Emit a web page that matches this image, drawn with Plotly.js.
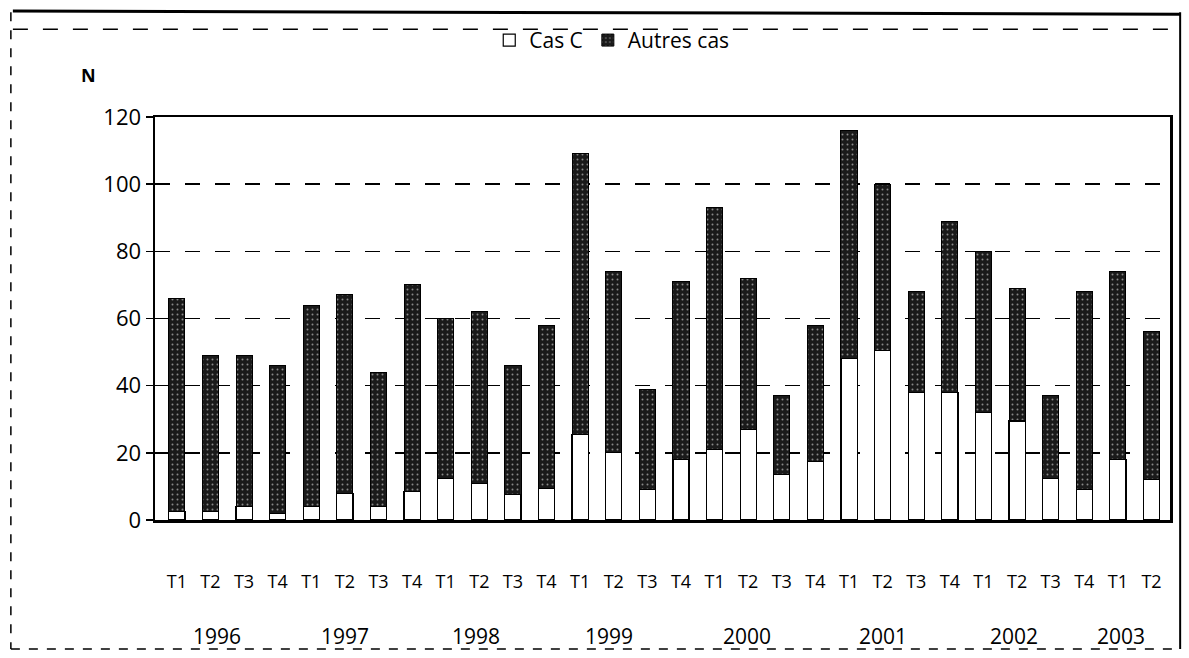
<!DOCTYPE html>
<html><head><meta charset="utf-8">
<script src="https://cdn.plot.ly/plotly-3.0.1.min.js"></script>
<style>html,body{margin:0;padding:0;background:#fff}#chart{width:1189px;height:658px}</style>
</head><body><div id="chart"></div>
<script>
const quarters = ["T1","T2","T3","T4","T1","T2","T3","T4","T1","T2","T3","T4","T1","T2","T3","T4","T1","T2","T3","T4","T1","T2","T3","T4","T1","T2","T3","T4","T1","T2"];
const years = ["1996","1997","1998","1999","2000","2001","2002","2003"];
const yearPos = [1.2, 5.0, 8.9, 12.85, 16.95, 21.0, 24.9, 28.1];
const totals = [66,49,49,46, 64,67,44,70, 60,62,46,58, 109,74,39,71, 93,72,37,58, 116,100,68,89, 80,69,37,68, 74,56];
const casC   = [2.5,2.5,4,2, 4,8,4,8.5, 12.5,11,7.5,9.5, 25.5,20,9,18, 21,27,13.5,17.5, 48,50.5,38,38, 32,29.5,12.5,9, 18,12];
const autres = totals.map((t,i)=>t-casC[i]);
const xs = quarters.map((q,i)=>i);

const font = "'Open Sans', 'DejaVu Sans', sans-serif";
const traces = [
  {type:"bar", name:"Cas C", x:xs, y:casC, width:0.48,
   marker:{color:"#ffffff", line:{color:"#000", width:1.2}}},
  {type:"bar", name:"Autres cas", x:xs, y:autres, width:0.48,
   marker:{color:"#1a1a1a", line:{color:"#000", width:1},
     pattern:{shape:".", fgcolor:"#8a8a8a", bgcolor:"#1a1a1a", fillmode:"replace", size:5, solidity:0.12}}}
];
const annotations = years.map((y,i)=>({x:yearPos[i], y:-0.288, xref:"x", yref:"paper", yanchor:"middle",
  text:y, showarrow:false, font:{family:font, size:21, color:"#000"}}));
annotations.push({x:-0.066, y:1.104, xref:"paper", yref:"paper", xanchor:"center", yanchor:"middle",
  text:"<b>N</b>", showarrow:false, font:{family:font, size:18, color:"#000"}});

const shapes = [
  {type:"line", xref:"paper", yref:"paper", x0:-0.14, x1:1.01, y0:1.263, y1:1.255, line:{color:"#000", width:3}},
  {type:"line", xref:"paper", yref:"paper", x0:-0.14, x1:1.01, y0:1.218, y1:1.218, line:{color:"#000", width:1.5, dash:"longdash"}},
  {type:"line", xref:"paper", yref:"paper", x0:-0.142, x1:-0.142, y0:1.26, y1:-0.32, line:{color:"#000", width:1.5, dash:"dash"}},
  {type:"line", xref:"paper", yref:"paper", x0:-0.142, x1:1.01, y0:-0.32, y1:-0.32, line:{color:"#000", width:1.5, dash:"dash"}},
  {type:"line", xref:"paper", yref:"paper", x0:1.01, x1:1.01, y0:1.26, y1:-0.32, line:{color:"#000", width:2}}
];

const layout = {
  width:1189, height:658,
  margin:{l:155, r:19, t:117, b:138},
  paper_bgcolor:"#fff", plot_bgcolor:"#fff",
  barmode:"stack",
  showlegend:true,
  legend:{orientation:"h", x:0.45, xanchor:"center", y:1.19, yanchor:"middle",
    font:{family:font, size:21, color:"#000"}, traceorder:"normal", itemwidth:30, bgcolor:"rgba(0,0,0,0)"},
  xaxis:{tickmode:"array", tickvals:xs, ticktext:quarters, range:[-0.65, 29.55],
    showgrid:false, zeroline:false, showline:true, linecolor:"#000", linewidth:2.5, mirror:true,
    ticks:"", ticklabelstandoff:44, tickfont:{family:font, size:18, color:"#000"}},
  yaxis:{range:[0,120], tickvals:[0,20,40,60,80,100,120], ticktext:["0","20","40","60","80","100","120"],
    showgrid:true, gridcolor:"#000", gridwidth:1.5, griddash:"longdash",
    zeroline:false, showline:true, linecolor:"#000", linewidth:2.5, mirror:true,
    ticks:"outside", ticklen:7, tickcolor:"#000", tickwidth:1.5,
    tickfont:{family:font, size:22, color:"#000"}},
  annotations:annotations,
  shapes:shapes,
  bargap:0.5
};
Plotly.newPlot("chart", traces, layout, {displayModeBar:false, staticPlot:true});
</script></body></html>
